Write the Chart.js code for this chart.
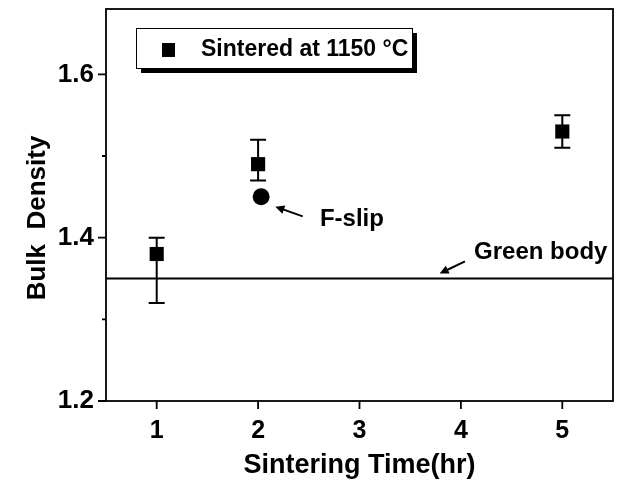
<!DOCTYPE html>
<html>
<head>
<meta charset="utf-8">
<script src="https://cdn.jsdelivr.net/npm/chart.js@4.4.0/dist/chart.umd.min.js"></script>
<style>
  html, body { margin: 0; padding: 0; background: #fff; }
</style>
</head>
<body>
<canvas id="chart" width="619" height="482"></canvas>
<script>
// values
const times = [1, 2, 5];
const density = [1.38, 1.49, 1.53];
const errUpper = [1.40, 1.52, 1.55];
const errLower = [1.32, 1.47, 1.51];
const fslipTime = [2.03];
const fslipDensity = [1.45];
const greenBody = 1.35;

const xTicks = [1, 2, 3, 4, 5];
const yTicks = [1.2, 1.4, 1.6];
const yMinorTicks = [1.3, 1.5];

// annotation arrows, in data units: [tailX, tailY, headX, headY]
const fslipArrow = [2.44, 1.426, 2.17, 1.438];
const greenArrow = [4.04, 1.371, 3.79, 1.356];

const FONT = 'Liberation Sans, Arial, sans-serif';

function arrow(ctx, x1, y1, x2, y2) {
    const ang = Math.atan2(y2 - y1, x2 - x1);
    const len = 10;
    ctx.beginPath();
    ctx.moveTo(x1, y1);
    ctx.lineTo(x2 - Math.cos(ang) * len * 0.6, y2 - Math.sin(ang) * len * 0.6);
    ctx.stroke();
    ctx.beginPath();
    ctx.moveTo(x2, y2);
    ctx.lineTo(x2 - len * Math.cos(ang - 0.45), y2 - len * Math.sin(ang - 0.45));
    ctx.lineTo(x2 - len * Math.cos(ang + 0.45), y2 - len * Math.sin(ang + 0.45));
    ctx.closePath();
    ctx.fill();
}

const extras = {
    id: 'extras',
    beforeDatasetsDraw(chart) {
        const { ctx, scales: { x, y } } = chart;
        ctx.save();
        ctx.strokeStyle = '#000';
        ctx.lineWidth = 2;
        times.forEach((t, i) => {
            const px = x.getPixelForValue(t);
            const top = y.getPixelForValue(errUpper[i]);
            const bot = y.getPixelForValue(errLower[i]);
            ctx.beginPath();
            ctx.moveTo(px, top); ctx.lineTo(px, bot);
            ctx.moveTo(px - 8, top); ctx.lineTo(px + 8, top);
            ctx.moveTo(px - 8, bot); ctx.lineTo(px + 8, bot);
            ctx.stroke();
        });
        ctx.restore();
    },
    afterDraw(chart) {
        const { ctx, chartArea: a, scales: { x, y } } = chart;
        ctx.save();
        ctx.strokeStyle = '#000';
        ctx.fillStyle = '#000';

        // frame
        ctx.lineWidth = 1.8;
        ctx.strokeRect(a.left, a.top, a.right - a.left, a.bottom - a.top);

        // tick marks
        ctx.beginPath();
        xTicks.forEach(v => {
            const px = x.getPixelForValue(v);
            ctx.moveTo(px, a.bottom); ctx.lineTo(px, a.bottom + 8);
        });
        yTicks.forEach(v => {
            const py = y.getPixelForValue(v);
            ctx.moveTo(a.left - 8, py); ctx.lineTo(a.left, py);
        });
        yMinorTicks.forEach(v => {
            const py = y.getPixelForValue(v);
            ctx.moveTo(a.left - 4, py); ctx.lineTo(a.left, py);
        });
        ctx.stroke();

        // y axis title, sitting a little below the middle as in the figure
        ctx.save();
        ctx.translate(38, 218);
        ctx.rotate(-Math.PI / 2);
        ctx.font = 'bold 26px ' + FONT;
        ctx.textAlign = 'center';
        ctx.textBaseline = 'middle';
        ctx.fillText('Bulk  Density', 0, 0);
        ctx.restore();

        // annotations
        ctx.lineWidth = 2;
        arrow(ctx, x.getPixelForValue(fslipArrow[0]), y.getPixelForValue(fslipArrow[1]),
                   x.getPixelForValue(fslipArrow[2]), y.getPixelForValue(fslipArrow[3]));
        arrow(ctx, x.getPixelForValue(greenArrow[0]), y.getPixelForValue(greenArrow[1]),
                   x.getPixelForValue(greenArrow[2]), y.getPixelForValue(greenArrow[3]));
        ctx.font = 'bold 24px ' + FONT;
        ctx.textBaseline = 'middle';
        ctx.textAlign = 'left';
        ctx.fillText('F-slip', x.getPixelForValue(2.61), y.getPixelForValue(1.423));
        ctx.fillText('Green body', x.getPixelForValue(4.13), y.getPixelForValue(1.382));

        // legend box with shadow
        const lx = 136, ly = 28, lw = 276, lh = 40;
        ctx.fillRect(lx + 5, ly + 5, lw, lh);
        ctx.fillStyle = '#fff';
        ctx.fillRect(lx, ly, lw, lh);
        ctx.lineWidth = 1;
        ctx.strokeRect(lx + 0.5, ly + 0.5, lw, lh);
        ctx.fillStyle = '#000';
        ctx.fillRect(162, 43, 13, 14);
        ctx.font = 'bold 23px ' + FONT;
        ctx.fillText(chart.data.datasets[0].label, 201, 50);
        ctx.restore();
    }
};

new Chart(document.getElementById('chart'), {
    type: 'scatter',
    data: {
        datasets: [
            {
                label: 'Sintered at 1150 \u00B0C',
                data: times.map((t, i) => ({ x: t, y: density[i] })),
                pointStyle: 'rect',
                pointRadius: 10,
                backgroundColor: '#000',
                borderColor: '#000',
                borderWidth: 0
            },
            {
                label: 'F-slip',
                data: fslipTime.map((t, i) => ({ x: t, y: fslipDensity[i] })),
                pointStyle: 'circle',
                pointRadius: 8.5,
                backgroundColor: '#000',
                borderColor: '#000',
                borderWidth: 0
            },
            {
                label: 'Green body',
                data: [{ x: 0.5, y: greenBody }, { x: 5.5, y: greenBody }],
                showLine: true,
                pointRadius: 0,
                borderColor: '#000',
                borderWidth: 2
            }
        ]
    },
    options: {
        responsive: false,
        animation: false,
        layout: { autoPadding: false, padding: { top: 9, right: 6, left: 0, bottom: 0 } },
        plugins: { legend: { display: false }, tooltip: { enabled: false } },
        scales: {
            x: {
                type: 'linear',
                min: 0.5,
                max: 5.5,
                afterBuildTicks: s => { s.ticks = xTicks.map(v => ({ value: v })); },
                afterFit: s => { s.height = 81; s.paddingLeft = 0; s.paddingRight = 0; },
                grid: { display: false, drawTicks: false },
                border: { display: false },
                ticks: {
                    padding: 15,
                    maxRotation: 0,
                    autoSkip: false,
                    color: '#000',
                    font: { family: FONT, size: 25, weight: 'bold' }
                },
                title: {
                    display: true,
                    text: 'Sintering Time(hr)',
                    color: '#000',
                    padding: { top: 0, bottom: 0 },
                    font: { family: FONT, size: 27, weight: 'bold' }
                }
            },
            y: {
                min: 1.2,
                max: 1.68,
                afterBuildTicks: s => { s.ticks = yTicks.map(v => ({ value: v })); },
                afterFit: s => { s.width = 106; s.paddingTop = 0; s.paddingBottom = 0; },
                grid: { display: false, drawTicks: false },
                border: { display: false },
                ticks: {
                    padding: 12,
                    color: '#000',
                    callback: v => v.toFixed(1),
                    font: { family: FONT, size: 26, weight: 'bold' }
                },
                title: { display: false }
            }
        }
    },
    plugins: [extras]
});
</script>
</body>
</html>
